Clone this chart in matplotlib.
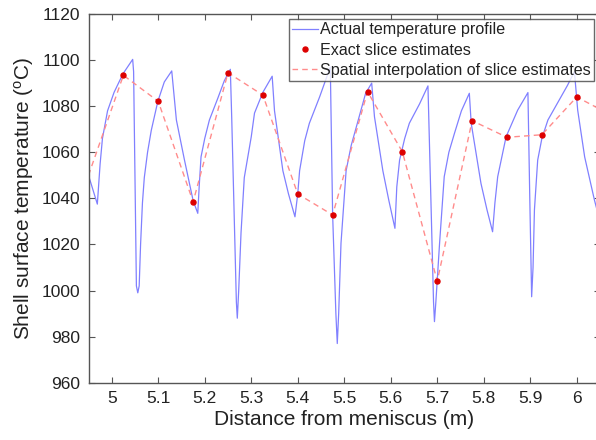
import matplotlib
matplotlib.use("Agg")
from matplotlib import pyplot as plt

plt.rcParams['font.family'] = ['Liberation Sans', 'DejaVu Sans']

# actual temperature profile
dist = [4.950, 4.969, 4.975, 4.980, 4.991, 5.005, 5.024, 5.045, 5.047, 5.053,
        5.056, 5.059, 5.062, 5.066, 5.070, 5.077, 5.085, 5.099, 5.113, 5.129,
        5.139, 5.156, 5.175, 5.185, 5.188, 5.192, 5.200, 5.210, 5.228, 5.242,
        5.255, 5.258, 5.268, 5.270, 5.273, 5.278, 5.285, 5.300, 5.307, 5.325,
        5.345, 5.350, 5.368, 5.380, 5.394, 5.400, 5.404, 5.415, 5.425, 5.447,
        5.470, 5.475, 5.482, 5.485, 5.488, 5.493, 5.504, 5.515, 5.526, 5.546,
        5.559, 5.565, 5.583, 5.596, 5.609, 5.613, 5.619, 5.630, 5.640, 5.662,
        5.680, 5.685, 5.692, 5.694, 5.697, 5.705, 5.715, 5.725, 5.737, 5.752,
        5.769, 5.773, 5.794, 5.807, 5.819, 5.824, 5.830, 5.848, 5.873, 5.895,
        5.899, 5.903, 5.906, 5.909, 5.916, 5.925, 5.938, 5.966, 5.980, 5.995,
        6.002, 6.017, 6.038, 6.050]
temp = [1050, 1037.5, 1055, 1066, 1078, 1086, 1094, 1100.3, 1095, 1002,
        999, 1002, 1020, 1038, 1049, 1060, 1069.5, 1082, 1090.5, 1095.3,
        1074, 1057, 1039, 1033.5, 1045, 1058, 1066, 1074, 1083.4, 1091,
        1096, 1075, 995, 988, 1000, 1025, 1049, 1066.7, 1077, 1086,
        1093, 1078, 1052, 1042, 1032, 1042, 1052, 1065, 1072.6, 1084,
        1097, 1033, 990, 977, 990, 1020.5, 1052, 1063, 1071, 1085.6,
        1090, 1075.4, 1052, 1039, 1027, 1045, 1056.6, 1066, 1072.6, 1081,
        1088.8, 1050, 995, 986.5, 995, 1020.5, 1049.4, 1060, 1068.2, 1078,
        1085.6, 1072.6, 1046.5, 1035, 1025.5, 1038, 1049.4, 1066.7, 1078.3, 1085.9,
        1040, 997.3, 1010, 1035, 1056.6, 1066, 1074, 1084, 1089, 1095,
        1078.3, 1058, 1039.3, 1030]

# slice estimates
slice_x = [5.025, 5.100, 5.175, 5.250, 5.325, 5.400, 5.475, 5.550, 5.625,
           5.700, 5.775, 5.850, 5.925, 6.000]
slice_t = [1093.4, 1082.1, 1038.5, 1094.5, 1084.8, 1041.9, 1032.8, 1086.3,
           1060.2, 1004.1, 1073.7, 1066.5, 1067.6, 1084.0]
# slices just outside the view, only used by the interpolation line
edge_x = [4.950, 6.075]
edge_t = [1050.0, 1076.0]

interp_x = [edge_x[0]] + slice_x + [edge_x[1]]
interp_t = [edge_t[0]] + slice_t + [edge_t[1]]

fig = plt.figure(figsize=(5.96, 4.40), dpi=100)
ax = fig.add_axes([88.5 / 596, 57.3 / 440, 511.5 / 596, 368.7 / 440])

l1, = ax.plot(dist, temp, color='#8080ff', lw=0.9)
l3, = ax.plot(interp_x, interp_t, color='#ff8c8c', lw=1.0, ls=(0, (4, 3)))
l2, = ax.plot(slice_x, slice_t, ls='none', marker='o', ms=3.6,
              color='#dd0000', mec='#dd0000')

ax.set_xlim(4.95, 6.05)
ax.set_ylim(960, 1120)
ax.set_xticks([5, 5.1, 5.2, 5.3, 5.4, 5.5, 5.6, 5.7, 5.8, 5.9, 6])
ax.set_xticklabels(['5', '5.1', '5.2', '5.3', '5.4', '5.5', '5.6', '5.7',
                    '5.8', '5.9', '6'])
ax.set_yticks(range(960, 1121, 20))

ax.tick_params(direction='in', length=4, width=0.8, color='#555555',
               labelsize=12.5, labelcolor='#222222', top=True, right=True,
               pad=6)
for s in ax.spines.values():
    s.set_color('#555555')
    s.set_linewidth(1.0)

ax.set_xlabel('Distance from meniscus (m)', fontsize=15, color='#222222',
              labelpad=3)
ax.set_ylabel(r'Shell surface temperature ($\mathregular{^o}$C)',
              fontsize=15, color='#222222', labelpad=4)

leg = ax.legend([l1, l2, l3], ['Actual temperature profile',
                               'Exact slice estimates',
                               'Spatial interpolation of slice estimates'],
                loc='upper right', bbox_to_anchor=(0.995, 0.995),
                fontsize=11.6, frameon=True, fancybox=False,
                handlelength=1.6, handletextpad=0.15, borderpad=0.2,
                labelspacing=0.33, borderaxespad=0.2)
leg.get_frame().set_edgecolor('#444444')
leg.get_frame().set_linewidth(1.0)
for t in leg.get_texts():
    t.set_color('#222222')

fig.savefig('out.png', dpi=100)
